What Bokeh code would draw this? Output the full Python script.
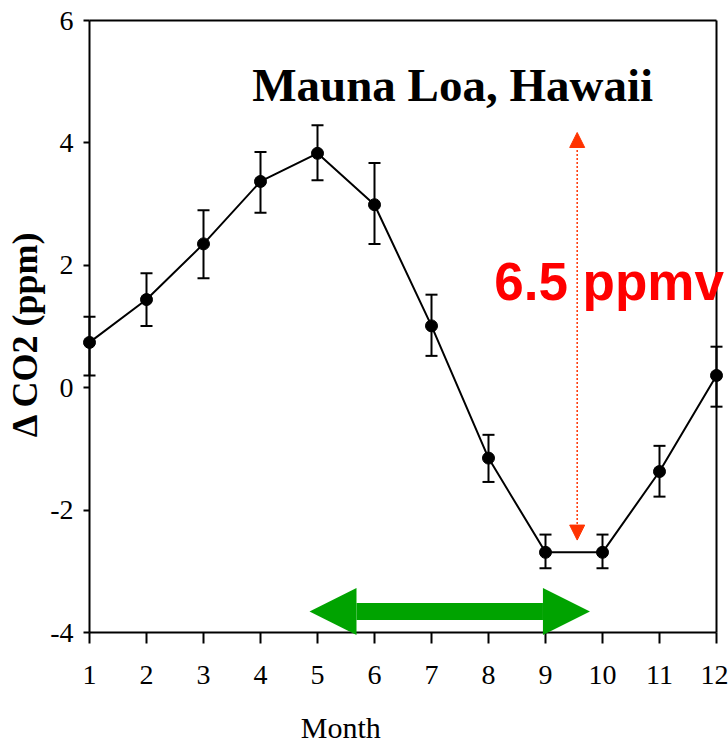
from bokeh.plotting import figure
from bokeh.models import (ColumnDataSource, Range1d, FixedTicker, LinearAxis, Whisker,
                          TeeHead, Arrow, NormalHead, Label)
from bokeh.embed import file_html
from bokeh.resources import INLINE

# ---------------- data ----------------
months = [1, 2, 3, 4, 5, 6, 7, 8, 9, 10, 11, 12]
delta_co2 = [0.74, 1.44, 2.35, 3.37, 3.83, 2.99, 1.01, -1.15, -2.69, -2.69, -1.37, 0.20]
err_upper = [1.16, 1.87, 2.90, 3.85, 4.29, 3.67, 1.52, -0.77, -2.40, -2.40, -0.95, 0.67]
err_lower = [0.20, 1.01, 1.79, 2.86, 3.39, 2.35, 0.52, -1.54, -2.95, -2.95, -1.78, -0.31]
x_ticks = [1, 2, 3, 4, 5, 6, 7, 8, 9, 10, 11, 12]
y_ticks = [-4, -2, 0, 2, 4, 6]
y_tick_labels = ["-4", "-2", "0", "2", "4", "6"]

title_text = "Mauna Loa, Hawaii"
amp_text = "6.5 ppmv"
x_label = "Month"
y_label = "\u0394 CO2 (ppm)"

# amplitude arrow (max to min) and growing-season arrow (months)
amp_x = 9.556
amp_top = 4.17
amp_bottom = -2.49
season_start = 4.86
season_end = 9.78
season_y = -3.655

# ---------------- layout ----------------
XMIN, XMAX = 1, 12
YMIN, YMAX = -4, 6
W, H = 728, 748
px_x = 57.0      # pixels per month
px_y = 61.2      # pixels per ppm
x0_px = 89       # pixel of month 1
y6_px = 20       # pixel of +6 ppm

src = ColumnDataSource(dict(x=months, y=delta_co2, upper=err_upper, lower=err_lower))

p = figure(width=W, height=H,
           min_border_left=0, min_border_right=0, min_border_top=0, min_border_bottom=0,
           x_range=Range1d(XMIN - x0_px / px_x, XMIN + (W - x0_px) / px_x),
           y_range=Range1d(YMAX - (H - y6_px) / px_y, YMAX + y6_px / px_y),
           output_backend="svg", toolbar_location=None,
           background_fill_color="white", border_fill_color="white")
p.outline_line_color = None
p.grid.visible = False

serif = "Liberation Serif"

xa = p.xaxis[0]
xa.fixed_location = YMIN
xa.bounds = (XMIN, XMAX)
xa.ticker = FixedTicker(ticks=x_ticks)
xa.axis_line_width = 2
xa.axis_line_color = "black"
xa.major_tick_line_width = 2
xa.major_tick_out = 11
xa.major_tick_in = 0
xa.minor_tick_line_color = None
xa.major_label_text_font = serif
xa.major_label_text_font_size = "28px"
xa.major_label_text_color = "black"
xa.major_label_standoff = 22

ya = p.yaxis[0]
ya.fixed_location = XMIN
ya.bounds = (YMIN, YMAX)
ya.ticker = FixedTicker(ticks=y_ticks)
ya.major_label_overrides = {t: s for t, s in zip(y_ticks, y_tick_labels)}
ya.axis_line_width = 2
ya.axis_line_color = "black"
ya.major_tick_line_width = 2
ya.major_tick_out = 6
ya.major_tick_in = 0
ya.minor_tick_line_color = None
ya.major_label_text_font = serif
ya.major_label_text_font_size = "28px"
ya.major_label_text_color = "black"
ya.major_label_standoff = 10

# frame lines (top and right) as plain axes
top_axis = LinearAxis(fixed_location=YMAX, bounds=(XMIN, XMAX), ticker=FixedTicker(ticks=[]),
                      axis_line_width=2, axis_line_color="black",
                      major_tick_line_color=None, minor_tick_line_color=None)
right_axis = LinearAxis(fixed_location=XMAX, bounds=(YMIN, YMAX), ticker=FixedTicker(ticks=[]),
                        axis_line_width=2, axis_line_color="black",
                        major_tick_line_color=None, minor_tick_line_color=None)
p.add_layout(top_axis, "above")
p.add_layout(right_axis, "right")

# error bars
p.add_layout(Whisker(source=src, base="x", upper="upper", lower="lower", dimension="height",
                     line_color="black", line_width=2,
                     upper_head=TeeHead(size=12, line_width=2, line_color="black"),
                     lower_head=TeeHead(size=12, line_width=2, line_color="black")))

# series
p.line("x", "y", source=src, line_color="black", line_width=2)
p.scatter("x", "y", source=src, marker="circle", size=12, fill_color="black", line_color="black")

# amplitude arrow
red = "#FF3300"
p.add_layout(Arrow(x_start=amp_x, y_start=amp_bottom, x_end=amp_x, y_end=amp_top,
                   line_color=red, line_width=1.5, line_dash="2 2",
                   start=NormalHead(size=15, fill_color=red, line_color=red, line_width=1),
                   end=NormalHead(size=15, fill_color=red, line_color=red, line_width=1)))

# growing-season arrow
green = "#00A300"
p.add_layout(Arrow(x_start=season_start, y_start=season_y, x_end=season_end, y_end=season_y,
                   line_color=green, line_width=17,
                   start=NormalHead(size=47, fill_color=green, line_color=green, line_width=0),
                   end=NormalHead(size=47, fill_color=green, line_color=green, line_width=0)))

# texts
p.add_layout(Label(x=3.855, y=4.95, text=title_text, text_font=serif, text_font_style="bold",
                   text_font_size="47px", text_color="black", text_baseline="alphabetic"))
p.add_layout(Label(x=8.10, y=1.73, text=amp_text, text_font="Liberation Sans",
                   text_font_style="bold", text_font_size="53px", text_color="#FF0000",
                   text_baseline="alphabetic"))
p.add_layout(Label(x=5.41, y=-5.555, text=x_label, text_font=serif, text_font_size="30px",
                   text_color="black", text_align="center", text_baseline="alphabetic"))
p.add_layout(Label(x=-0.140, y=0.88, text=y_label, text_font=serif, text_font_style="bold",
                   text_font_size="36px", text_color="black", text_align="center",
                   text_baseline="alphabetic", angle=1.5707963))

open("out.html", "w").write(file_html(p, INLINE))
